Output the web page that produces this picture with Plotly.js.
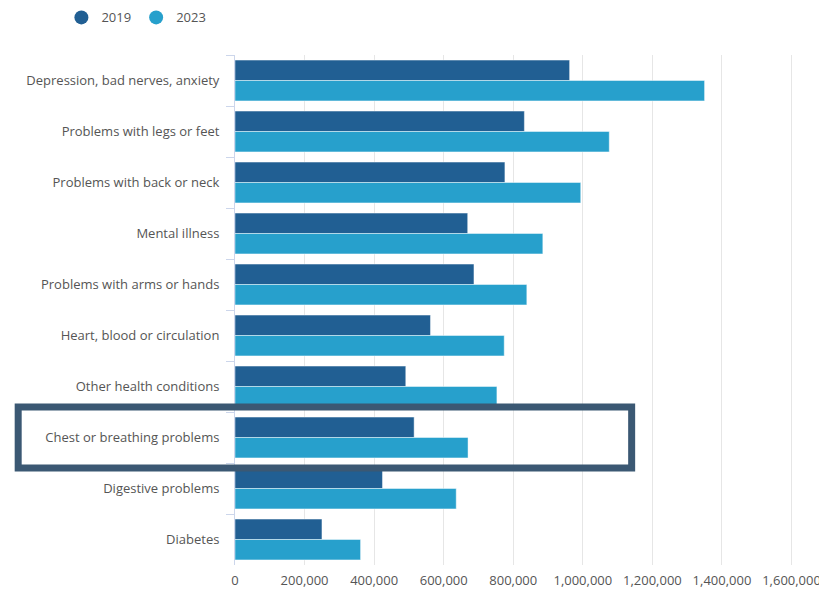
<!DOCTYPE html>
<html>
<head>
<meta charset="utf-8">
<script src="https://cdn.plot.ly/plotly-3.0.1.min.js"></script>
<style>html,body{margin:0;padding:0;background:#fff;}#chart{width:819px;height:590px;}</style>
</head>
<body>
<div id="chart"></div>
<script>
const categories = [
  "Depression, bad nerves, anxiety",
  "Problems with legs or feet",
  "Problems with back or neck",
  "Mental illness",
  "Problems with arms or hands",
  "Heart, blood or circulation",
  "Other health conditions",
  "Chest or breathing problems",
  "Digestive problems",
  "Diabetes"
];
const values2019 = [962000, 832000, 776000, 669000, 687000, 562000, 491000, 515000, 424000, 250000];
const values2023 = [1350000, 1076000, 994000, 885000, 839000, 774000, 753000, 670000, 636000, 361000];
const seriesNames = ["2019", "2023"];
const tickVals = [0, 200000, 400000, 600000, 800000, 1000000, 1200000, 1400000, 1600000];
const tickText = ["0", "200,000", "400,000", "600,000", "800,000", "1,000,000", "1,200,000", "1,400,000", "1,600,000"];
const highlighted = "Chest or breathing problems";

const c2019 = "#215f93";
const c2023 = "#27a0cc";
const font = "'Open Sans', sans-serif";

const traces = [
  {type: "bar", orientation: "h", name: seriesNames[0], y: categories, x: values2019,
   marker: {color: c2019, line: {color: "rgba(255,255,255,0.45)", width: 1}}, showlegend: false},
  {type: "bar", orientation: "h", name: seriesNames[1], y: categories, x: values2023,
   marker: {color: c2023, line: {color: "rgba(255,255,255,0.45)", width: 1}}, showlegend: false},
  {type: "scatter", mode: "markers", name: seriesNames[0], x: [null], y: [null],
   marker: {color: c2019, size: 14, symbol: "circle"}, hoverinfo: "skip"},
  {type: "scatter", mode: "markers", name: seriesNames[1], x: [null], y: [null],
   marker: {color: c2023, size: 14, symbol: "circle"}, hoverinfo: "skip"}
];

const idx = categories.indexOf(highlighted);
const xMax = 1610000;
const plotW = 557 * xMax / 1600000;

const layout = {
  width: 819, height: 590,
  margin: {l: 235, r: 819 - 235 - plotW, t: 55, b: 25, autoexpand: false},
  paper_bgcolor: "#fff", plot_bgcolor: "#fff",
  font: {family: font, size: 13, color: "#555"},
  barmode: "group", bargap: 0.2, bargroupgap: 0,
  showlegend: true,
  legend: {orientation: "h", x: -0.31, xanchor: "left", y: 1.103, yanchor: "top",
           font: {family: font, size: 13, color: "#555"}, itemwidth: 30, traceorder: "normal"},
  xaxis: {range: [0, xMax], tickvals: tickVals, ticktext: tickText,
          showgrid: true, gridcolor: "#e6e6e6", gridwidth: 1, zeroline: false,
          showline: false, ticks: "", ticklabeloverflow: "allow", ticklabelstandoff: 6,
          tickfont: {family: font, size: 13, color: "#555"}, fixedrange: true},
  yaxis: {type: "category", autorange: "reversed", showline: true, linecolor: "#ccd6eb", linewidth: 1,
          ticks: "outside", tickson: "boundaries", ticklen: 8, tickcolor: "#ccd6eb",
          ticklabelstandoff: 12,
          showgrid: false, zeroline: false, tickfont: {family: font, size: 13, color: "#555"}},
  shapes: [
    {type: "rect", xref: "paper", yref: "y", layer: "above",
     x0: (18 - 235) / plotW, x1: (632 - 235) / plotW,
     y0: idx - 0.6, y1: idx + 0.6,
     line: {color: "#3b5873", width: 7}, fillcolor: "rgba(0,0,0,0)"}
  ]
};

Plotly.newPlot("chart", traces, layout, {displayModeBar: false, staticPlot: true});
</script>
</body>
</html>
